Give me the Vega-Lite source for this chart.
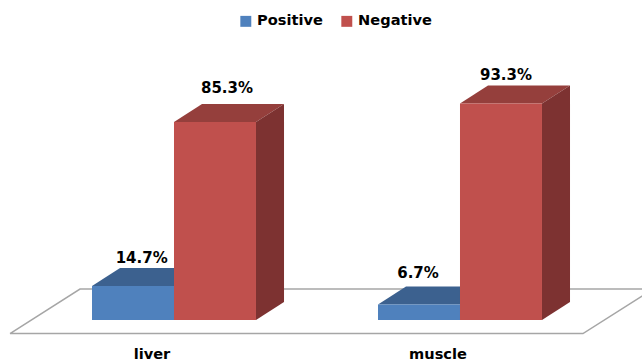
{
  "$schema": "https://vega.github.io/schema/vega-lite/v6.json",
  "width": 642,
  "height": 363,
  "padding": 0,
  "autosize": {"type": "fit", "contains": "padding"},
  "background": "white",
  "config": {"view": {"stroke": null}, "text": {"font": "DejaVu Sans"}},
  "params": [
    {"name": "barW", "value": 0.2867},
    {"name": "depthX", "value": 0.098},
    {"name": "depthY", "value": 7.76}
  ],
  "datasets": {
    "results": [
      {"category": "liver", "slot": 0, "series": "Positive", "value": 14.7},
      {"category": "liver", "slot": 0, "series": "Negative", "value": 85.3},
      {"category": "muscle", "slot": 1, "series": "Positive", "value": 6.7},
      {"category": "muscle", "slot": 1, "series": "Negative", "value": 93.3}
    ],
    "floor": [
      {"step": 1, "gx": -0.5734, "gy": -5.82},
      {"step": 2, "gx": -0.3287, "gy": 13.36},
      {"step": 3, "gx": 1.675, "gy": 13.36},
      {"step": 4, "gx": 1.43, "gy": -5.82},
      {"step": 5, "gx": -0.5734, "gy": -5.82}
    ]
  },
  "encoding": {
    "x": {"field": "gx", "type": "quantitative", "axis": null, "scale": {"domain": [-0.6084, 1.6364], "nice": false, "zero": false}},
    "y": {"field": "gy", "type": "quantitative", "axis": null, "stack": null, "scale": {"domain": [-18.53, 137.93], "nice": false, "zero": false}}
  },
  "layer": [
    {
      "data": {"name": "floor"},
      "mark": {"type": "line", "color": "#a6a6a6", "strokeWidth": 1.5, "clip": true},
      "encoding": {"order": {"field": "step", "type": "quantitative"}}
    },
    {
      "data": {"name": "results"},
      "transform": [
        {"calculate": "datum.slot - (datum.series == 'Positive' ? barW : 0)", "as": "x0"},
        {"calculate": "[datum.x0, datum.x0 + depthX, datum.x0 + barW, datum.x0 + barW + depthX]", "as": "gx"},
        {"calculate": "[datum.value, datum.value + depthY, datum.value + depthY, datum.value + depthY]", "as": "gy"},
        {"calculate": "[datum.value, datum.value, datum.value, datum.value + depthY]", "as": "gy2"},
        {"flatten": ["gx", "gy", "gy2"]}
      ],
      "mark": {"type": "area", "orient": "vertical"},
      "encoding": {
        "y2": {"field": "gy2"},
        "detail": {"field": "category"},
        "color": {"field": "series", "type": "nominal", "legend": null, "scale": {"domain": ["Positive", "Negative"], "range": ["#3c618f", "#953f3c"]}}
      }
    },
    {
      "data": {"name": "results"},
      "transform": [
        {"calculate": "datum.slot - (datum.series == 'Positive' ? barW : 0) + barW", "as": "x1"},
        {"calculate": "[datum.x1, datum.x1 + depthX]", "as": "gx"},
        {"calculate": "[datum.value, datum.value + depthY]", "as": "gy"},
        {"calculate": "[0, depthY]", "as": "gy2"},
        {"flatten": ["gx", "gy", "gy2"]}
      ],
      "mark": {"type": "area", "orient": "vertical"},
      "encoding": {
        "y2": {"field": "gy2"},
        "detail": {"field": "category"},
        "color": {"field": "series", "type": "nominal", "legend": null, "scale": {"domain": ["Positive", "Negative"], "range": ["#2f4d73", "#7d3231"]}}
      }
    },
    {
      "data": {"name": "results"},
      "transform": [
        {"calculate": "datum.slot - (datum.series == 'Positive' ? barW : 0)", "as": "gx"},
        {"calculate": "datum.gx + barW", "as": "gx2"},
        {"calculate": "datum.value", "as": "gy"}
      ],
      "mark": {"type": "rect"},
      "encoding": {
        "x2": {"field": "gx2"},
        "y2": {"datum": 0},
        "color": {
          "field": "series",
          "type": "nominal",
          "scale": {"domain": ["Positive", "Negative"], "range": ["#4f81bd", "#c0504d"]},
          "legend": {
            "title": null,
            "orient": "none",
            "legendX": 238.5,
            "legendY": 14,
            "direction": "horizontal",
            "symbolType": "square",
            "symbolSize": 120,
            "symbolStrokeWidth": 0,
            "labelFont": "DejaVu Sans",
            "labelFontWeight": "bold",
            "labelFontSize": 14.6,
            "labelColor": "#000000",
            "labelOffset": 4,
            "columnPadding": 16
          }
        }
      }
    },
    {
      "data": {"name": "results"},
      "transform": [
        {"calculate": "datum.slot - (datum.series == 'Positive' ? barW : 0) + barW / 2", "as": "gx"},
        {"calculate": "datum.value", "as": "gy"},
        {"calculate": "format(datum.value, '.1f') + '%'", "as": "label"}
      ],
      "mark": {
        "type": "text",
        "fontWeight": "bold",
        "fontSize": 15,
        "color": "#000000",
        "baseline": "middle",
        "align": "center",
        "xOffset": {"expr": "datum.value == 14.7 ? 8.7 : datum.value == 85.3 ? 12 : datum.value == 6.7 ? -1 : 5"},
        "yOffset": {"expr": "datum.value == 14.7 ? -28 : datum.value == 85.3 ? -34 : datum.value == 6.7 ? -31 : -29"}
      },
      "encoding": {"text": {"field": "label", "type": "nominal"}}
    },
    {
      "data": {"name": "results"},
      "transform": [
        {"filter": "datum.series == 'Positive'"},
        {"calculate": "datum.slot - 0.077", "as": "gx"},
        {"calculate": "-15", "as": "gy"}
      ],
      "mark": {"type": "text", "fontWeight": "bold", "fontSize": 14.6, "color": "#000000", "baseline": "middle", "align": "center"},
      "encoding": {"text": {"field": "category", "type": "nominal"}}
    }
  ],
  "resolve": {"scale": {"color": "independent"}}
}
